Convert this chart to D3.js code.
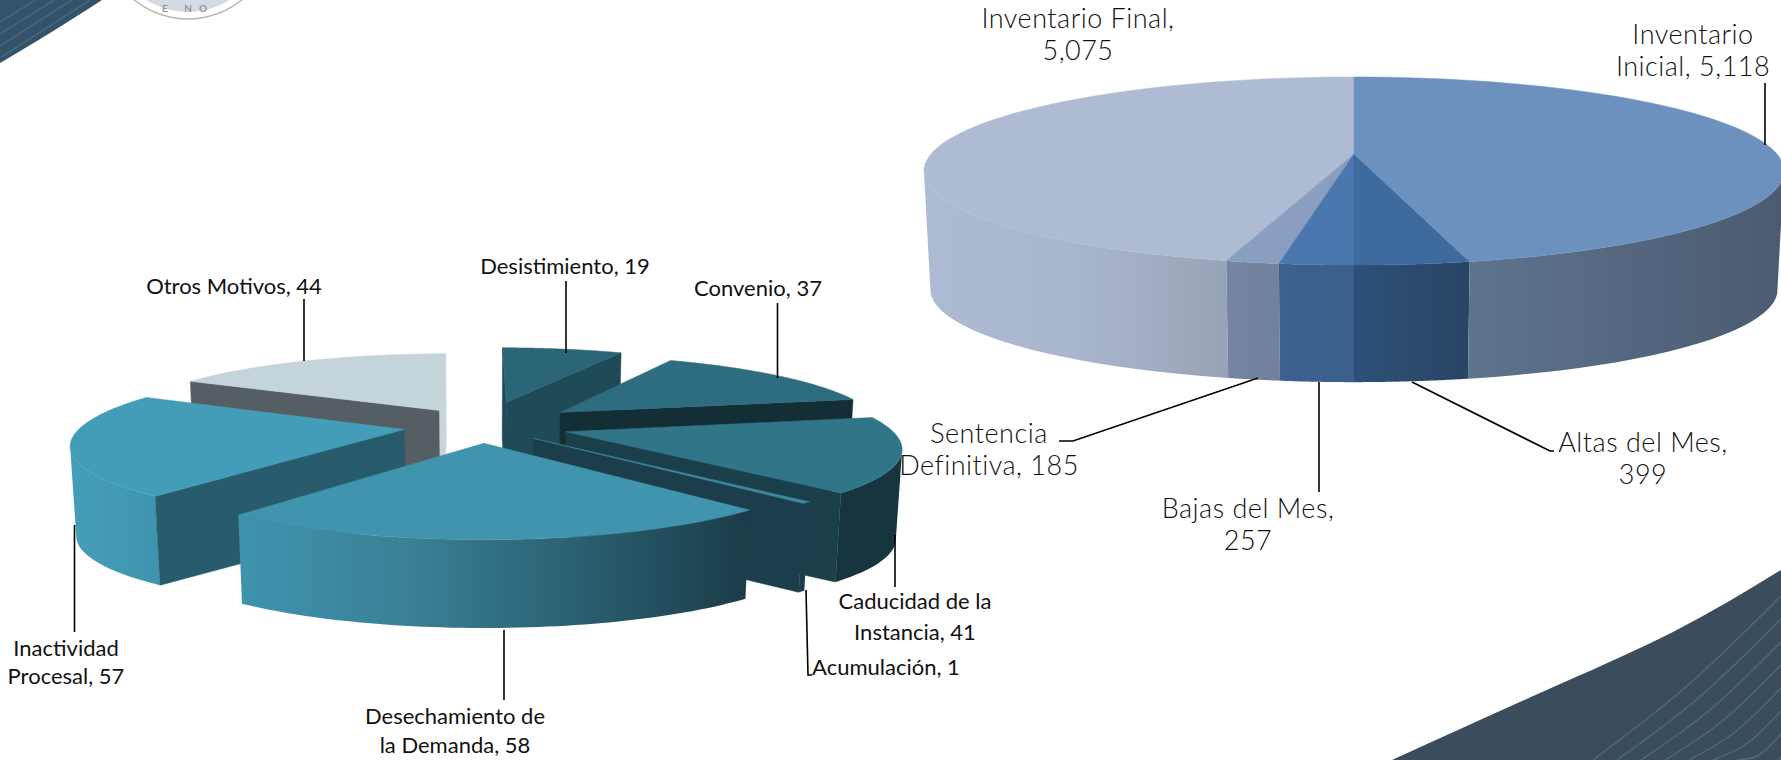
<!DOCTYPE html>
<html>
<head>
<meta charset="utf-8">
<script src="https://cdn.jsdelivr.net/npm/d3@7"></script>
<style>
  html, body { margin: 0; padding: 0; background: #fff; }
  svg { display: block; }
  .lbl-left { font-family: Lato, sans-serif; font-size: 22px; fill: #111; text-anchor: middle; }
  .lbl-right { font-family: Lato, sans-serif; font-weight: 300; font-size: 27px; letter-spacing: 0.5px; fill: #111; text-anchor: middle; }
  .leader { fill: none; stroke: #000; stroke-width: 1.6; }
</style>
</head>
<body>
<div id="chart"></div>
<script>
// ---- data ----
const bajasNames = ["Desistimiento", "Convenio", "Caducidad de la Instancia", "Acumulación", "Desechamiento de la Demanda", "Inactividad Procesal", "Otros Motivos"];
const bajasValues = [19, 37, 41, 1, 58, 57, 44];
const inventarioNames = ["Inventario Inicial", "Altas del Mes", "Bajas del Mes", "Sentencia Definitiva", "Inventario Final"];
const inventarioValues = [5118, 399, 257, 185, 5075];

// ---- slice colours ----
const bajasTop = ["#2b6578", "#2e6d80", "#317688", "#3d8aa0", "#4194ae", "#449db8", "#c4d4da"];
const bajasWallStart = ["#1f4a58", "#1f4a58", "#163a44", "#1c3e4c", "#1c3e4c", "#285c6c", "#555e62"];
const bajasWallEnd = ["#1f4a58", "#142e36", "#1b3f4b", "#1c3e4c", "#1c3e4c", "#285c6c", "#c8d5db"];
const bajasRim = [["#1f4a58", "#1f4a58"], ["#142e36", "#142e36"], ["#17353e", "#17353e"], ["#1c3e4c", "#1c3e4c"], ["#3f93ad", "#3a8096", "#2a5f70", "#1b3c49"], ["#459eb9", "#3f95af"], ["#555e62", "#555e62"]];
const inventarioTop = ["#6c91be", "#3f6a9e", "#4a78ae", "#8a9fc0", "#aebbd3"];
const inventarioRim = [["#5d748d", "#4b5a70"], ["#2e5078", "#294564"], ["#3c618f", "#3b5f8a"], ["#7584a0", "#71809c"], ["#aebad2", "#aab6cd", "#98a3b7"]];

const svg = d3.select("#chart").append("svg").attr("width", 1781).attr("height", 760);
const defs = svg.append("defs");

drawBackground();

// shape of each 3d pie (perspective on a tilted disc)
const bajasPie = { cx: 481, cy: 426, a: 323, b: 72, k: 0.18, h: 90, s: 0.985 };
const inventarioPie = { cx: 1354, cy: 154, a: 423, b: 91, k: 0.181, h: 118.7, s: 0.985 };

// how far each slice is pulled out, and the far-to-near paint order
const bajasExplode = [0.36, 0.32, 0.27, 0.23, 0.23, 0.24, 0.26];
const bajasOrder = [6, 0, 1, 5, 2, 3, 4];

drawPie3d("inv", inventarioPie, inventarioValues, inventarioValues.map(() => 0), [4, 3, 2, 1, 0],
    inventarioTop, null, null, inventarioRim);
drawPie3d("baj", bajasPie, bajasValues, bajasExplode, bajasOrder,
    bajasTop, bajasWallStart, bajasWallEnd, bajasRim);

drawLabels();

function drawPie3d(id, pie, values, explode, order, topColors, wallStart, wallEnd, rimColors) {
    const arcs = d3.pie().sort(null).value(d => d).startAngle(0).endAngle(2 * Math.PI)(values);
    const g = svg.append("g").attr("class", "pie-" + id);
    const line = d3.line();

    // plane coordinates -> screen; lower=true gives the bottom ring
    function project(px, py, lower) {
        const w = 1 - pie.k * py;
        const s = lower ? pie.s : 1;
        return [pie.cx + pie.a * s * px / w, pie.cy + (lower ? pie.h : 0) + pie.b * s * py / w];
    }

    order.forEach(function(i) {
        const d = arcs[i];
        const mid = (d.startAngle + d.endAngle) / 2;
        const ox = explode[i] * Math.sin(mid);
        const oy = -explode[i] * Math.cos(mid);
        const steps = d3.range(0, 61).map(t => d.startAngle + (d.endAngle - d.startAngle) * t / 60);
        const rimPoint = (th, lower) => project(ox + Math.sin(th), oy - Math.cos(th), lower);

        // outer wall, only the part turned to the viewer
        const front = steps.filter(function(th) {
            const X = Math.sin(th), Y = -Math.cos(th);
            return -ox * X - oy * Y - 1 + Y / pie.k > 0;
        });
        if (front.length > 1) {
            const upper = front.map(th => rimPoint(th, false));
            const lowerPts = front.map(th => rimPoint(th, true)).reverse();
            const gradId = id + "-rim-" + i;
            const grad = defs.append("linearGradient").attr("id", gradId)
                .attr("gradientUnits", "userSpaceOnUse")
                .attr("x1", d3.min(upper, p => p[0])).attr("x2", d3.max(upper, p => p[0]))
                .attr("y1", 0).attr("y2", 0);
            // the colours run left to right on the picture
            rimColors[i].forEach(function(c, j) {
                grad.append("stop").attr("offset", j / (rimColors[i].length - 1)).attr("stop-color", c);
            });
            g.append("path").attr("d", line(upper.concat(lowerPts)) + "Z").attr("fill", "url(#" + gradId + ")");
        }

        // cut walls of the pulled out slices
        if (wallStart) {
            [[d.startAngle, -1, wallStart[i]], [d.endAngle, 1, wallEnd[i]]].forEach(function(w) {
                const nx = w[1] * Math.cos(w[0]), ny = w[1] * Math.sin(w[0]);
                if (-ox * nx + (1 / pie.k - oy) * ny <= 0) return;
                const pts = [project(ox, oy, false), rimPoint(w[0], false), rimPoint(w[0], true), project(ox, oy, true)];
                g.append("path").attr("d", line(pts) + "Z").attr("fill", w[2]).attr("stroke", w[2]).attr("stroke-width", 0.5);
            });
        }

        // top face
        const top = [project(ox, oy, false)].concat(steps.map(th => rimPoint(th, false)));
        g.append("path").attr("d", line(top) + "Z").attr("fill", topColors[i]).attr("stroke", topColors[i]).attr("stroke-width", 0.5);
    });
}

function drawLabels() {
    // [text lines, centre x, first baseline, line step]
    const leftLabels = [
        [["Desistimiento, 19"], 565, 274, 0],
        [["Otros Motivos, 44"], 234, 294, 0],
        [["Convenio, 37"], 758, 296, 0],
        [["Caducidad de la", "Instancia, 41"], 915, 609, 31],
        [["Acumulación, 1"], 886, 675, 0],
        [["Desechamiento de", "la Demanda, 58"], 455, 724, 29],
        [["Inactividad", "Procesal, 57"], 66, 656, 28]
    ];
    const rightLabels = [
        [["Inventario Final,", "5,075"], 1078, 28, 32],
        [["Inventario", "Inicial, 5,118"], 1693, 44, 32],
        [["Altas del Mes,", "399"], 1643, 452, 32],
        [["Bajas del Mes,", "257"], 1248, 518, 32],
        [["Sentencia", "Definitiva, 185"], 989, 443, 32]
    ];
    const leaders = [
        [[566, 281], [566, 353]],
        [[304, 299], [304, 361]],
        [[777.5, 303], [777.5, 378]],
        [[895, 535], [895, 587]],
        [[806, 590], [808, 675], [812, 675]],
        [[504, 630], [504, 700]],
        [[74.5, 525], [74.5, 632]],
        [[1765, 83], [1765, 145]],
        [[1412, 382], [1550, 451], [1554, 451]],
        [[1319, 382], [1319, 492]],
        [[1258, 378], [1073, 441], [1059, 441]]
    ];
    svg.selectAll(".leader").data(leaders).enter().append("path")
        .attr("class", "leader")
        .attr("d", d3.line());

    function addText(list, cls) {
        list.forEach(function(l) {
            const t = svg.append("text").attr("class", cls);
            l[0].forEach(function(s, j) {
                t.append("tspan").attr("x", l[1]).attr("y", l[2] + j * l[3]).text(s);
            });
        });
    }
    addText(leftLabels, "lbl-left");
    addText(rightLabels, "lbl-right");
}

function drawBackground() {
    // corner of the slide template
    const curve = d3.line().curve(d3.curveNatural);
    svg.append("path")
        .attr("d", "M0,0L102,0" + curve([[102, 0], [50, 33], [0, 63]]).replace("M102,0", "") + "Z")
        .attr("fill", "#34536b");
    d3.range(4).forEach(function(i) {
        svg.append("path").attr("d", d3.line()([[0, 22 + i * 12], [36 + i * 18, 0]]))
            .attr("stroke", "#4a6a82").attr("stroke-width", 1.4).attr("fill", "none");
    });
    // seal, mostly cut off by the top edge
    svg.append("circle").attr("cx", 188).attr("cy", -66).attr("r", 85)
        .attr("fill", "#fff").attr("stroke", "#b8b8b4").attr("stroke-width", 1.5);
    svg.append("circle").attr("cx", 188).attr("cy", -66).attr("r", 78).attr("fill", "#d3dae2");
    svg.append("text").attr("x", 188).attr("y", 12).attr("text-anchor", "middle")
        .attr("font-family", "Lato, sans-serif").attr("font-weight", 700).attr("font-size", 10)
        .attr("letter-spacing", 7).attr("fill", "#8f98a3").text("E NO");

    const edge = [[1392, 760], [1540, 693], [1673, 632], [1781, 570]];
    svg.append("path")
        .attr("d", curve(edge) + "L1781,760Z")
        .attr("fill", "#3b4d5d");
    d3.range(9).forEach(function(i) {
        const x0 = 1593 + i * 24;
        const y1 = 596 + i * 23;
        svg.append("path").attr("d", curve([[x0, 760], [(x0 + 1781) / 2, (760 + y1) / 2 + 8], [1781, y1]]))
            .attr("stroke", "#526678").attr("stroke-width", 1.5).attr("fill", "none");
    });
}
</script>
</body>
</html>
